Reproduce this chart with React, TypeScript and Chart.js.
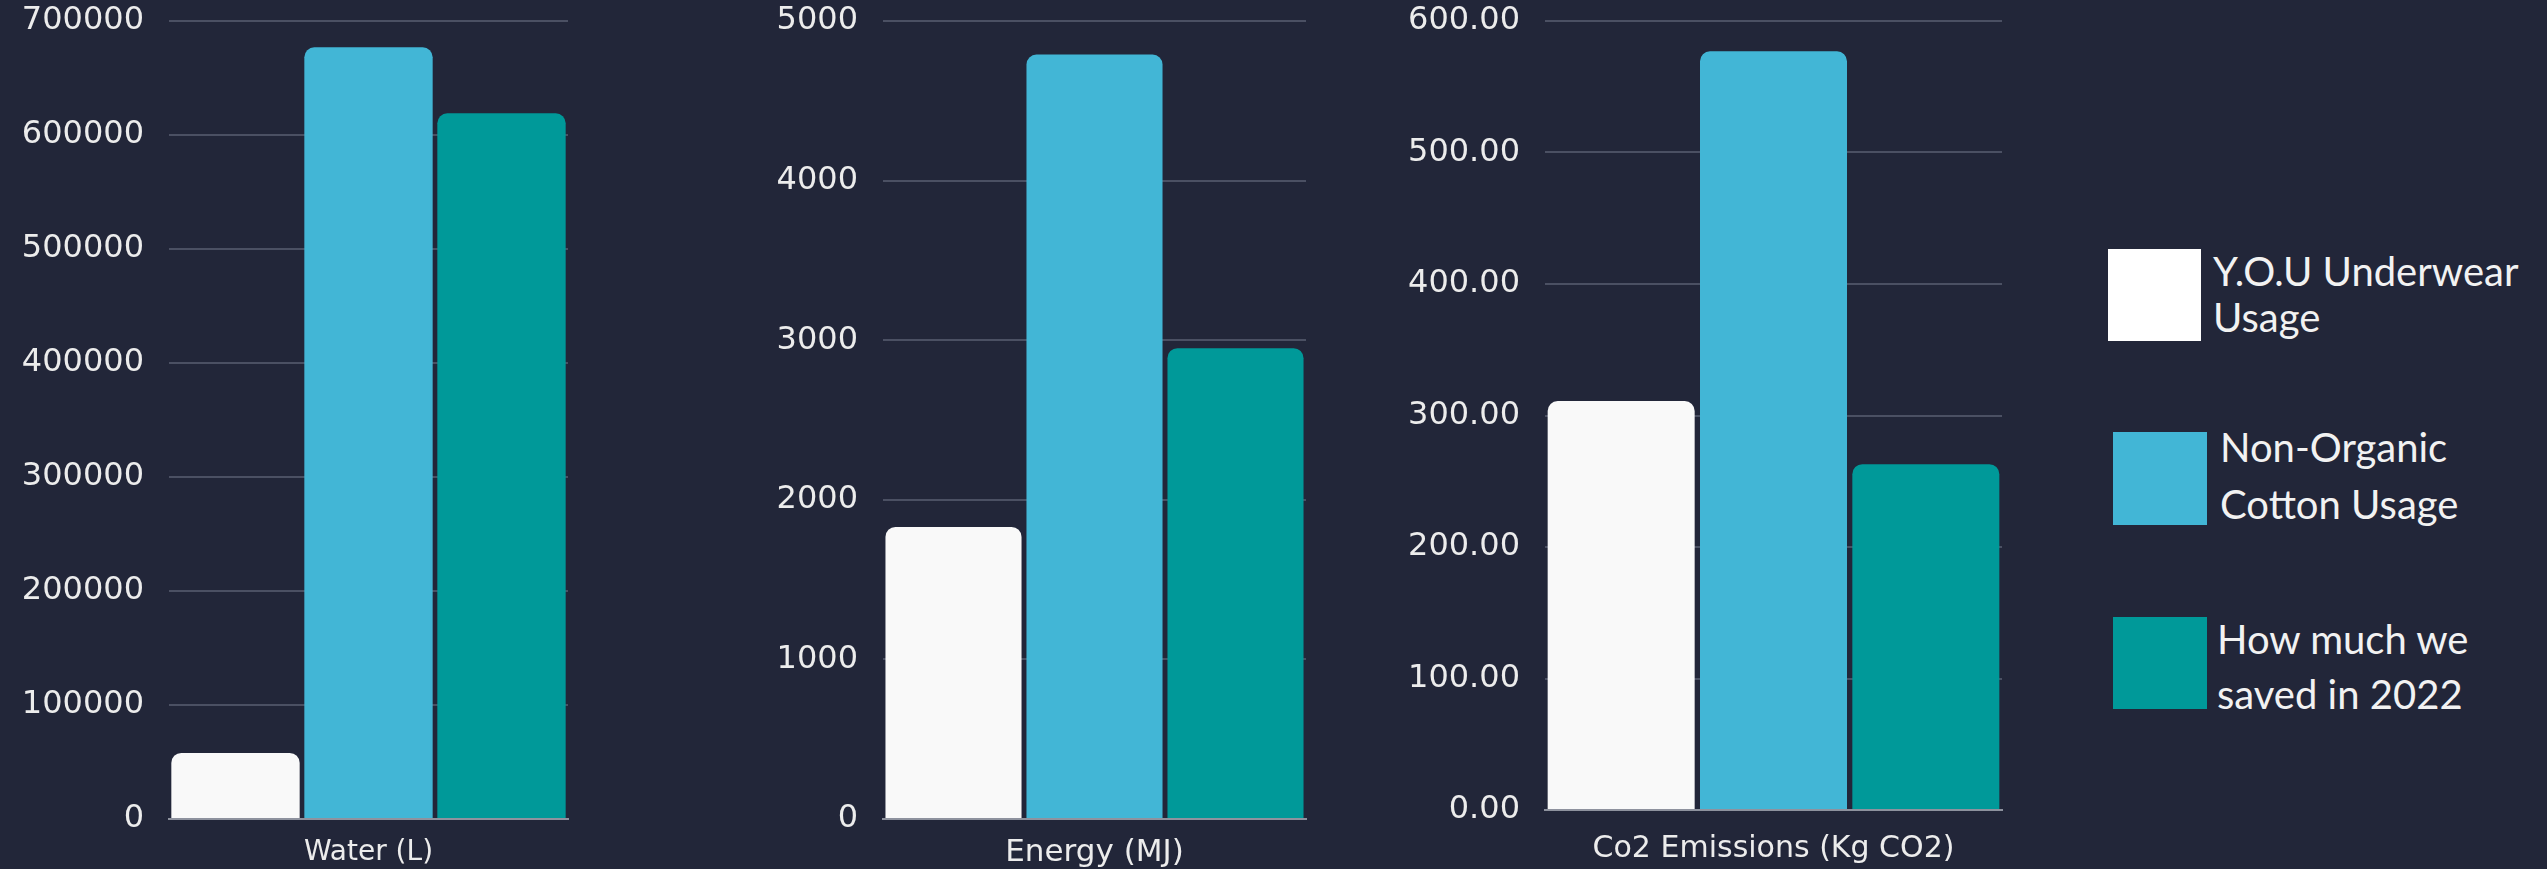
import React, { useEffect, useRef } from 'react';
import { Chart, registerables } from 'chart.js';

Chart.register(...registerables);

// ---- data ----
const SERIES_NAMES = ['Y.O.U Underwear Usage', 'Non-Organic Cotton Usage', 'How much we saved in 2022'];
const SERIES_COLORS = ['#f9f9f9', '#42b6d6', '#009999'];

const WATER_CATEGORY = ['Water (L)'];
const WATER_VALUES = [58000, 677000, 619000];
const WATER_TICKS = { max: 700000, step: 100000, decimals: 0 };

const ENERGY_CATEGORY = ['Energy (MJ)'];
const ENERGY_VALUES = [1830, 4790, 2950];
const ENERGY_TICKS = { max: 5000, step: 1000, decimals: 0 };

const CO2_CATEGORY = ['Co2 Emissions (Kg CO2)'];
const CO2_VALUES = [311, 577, 263];
const CO2_TICKS = { max: 600, step: 100, decimals: 2 };

const LEGEND_LINES = [
  ['Y.O.U Underwear', 'Usage'],
  ['Non-Organic', 'Cotton Usage'],
  ['How much we', 'saved in 2022'],
];

const BG = '#222639';
const GRID = '#4b5063';
const BASE = '#8e929e';
const TEXT = '#ececec';
const CHART_FONT = '"DejaVu Sans", sans-serif';

type PanelProps = {
  left: number;
  width: number;
  yWidth: number;
  padRight: number;
  bottomY: number;
  category: string[];
  values: number[];
  ticks: { max: number; step: number; decimals: number };
  xFontSize: number;
  xPad: number;
};

function BarPanel(p: PanelProps) {
  const ref = useRef<HTMLCanvasElement | null>(null);
  useEffect(() => {
    if (!ref.current) return;
    const chart = new Chart(ref.current, {
      type: 'bar',
      data: {
        labels: p.category,
        datasets: SERIES_NAMES.map((name, i) => ({
          label: name,
          data: [p.values[i]],
          backgroundColor: SERIES_COLORS[i],
          borderRadius: 10,
          borderSkipped: 'start',
          categoryPercentage: 1,
          barPercentage: 0.965,
        })),
      },
      options: {
        animation: false,
        responsive: false,
        maintainAspectRatio: false,
        layout: { padding: { left: 0, right: p.padRight, top: 21, bottom: 0 } },
        plugins: { legend: { display: false }, tooltip: { enabled: false } },
        scales: {
          x: {
            grid: { display: false },
            border: { display: true, color: BASE, width: 2 },
            ticks: {
              color: TEXT,
              padding: p.xPad,
              font: { family: CHART_FONT, size: p.xFontSize },
            },
            afterFit: (scale: any) => {
              scale.height = 869 - p.bottomY;
            },
          },
          y: {
            min: 0,
            max: p.ticks.max,
            grid: { color: GRID, lineWidth: 2, drawTicks: false },
            border: { display: false },
            ticks: {
              stepSize: p.ticks.step,
              color: TEXT,
              padding: 25,
              font: { family: CHART_FONT, size: 32 },
              callback: (v: any) => Number(v).toFixed(p.ticks.decimals),
            },
            afterFit: (scale: any) => {
              scale.width = p.yWidth;
              scale.paddingTop = 0;
              scale.paddingBottom = 0;
            },
          },
        },
      },
    } as any);
    return () => chart.destroy();
  }, []);
  return (
    <canvas
      ref={ref}
      width={p.width}
      height={869}
      style={{ position: 'absolute', left: p.left, top: 0, width: p.width, height: 869 }}
    />
  );
}

function LegendItem({ color, lines, box, textLeft, textTop, lineHeight }: any) {
  return (
    <>
      <div
        style={{
          position: 'absolute',
          left: box[0],
          top: box[1],
          width: box[2],
          height: box[3],
          background: color,
        }}
      />
      <div
        style={{
          position: 'absolute',
          left: textLeft,
          top: textTop,
          fontFamily: 'Lato, sans-serif',
          fontSize: 40,
          lineHeight: lineHeight + 'px',
          color: '#f2f2f2',
          whiteSpace: 'nowrap',
        }}
      >
        {lines.map((l: string, i: number) => (
          <div key={i}>{l}</div>
        ))}
      </div>
    </>
  );
}

export default function App() {
  useEffect(() => {
    document.body.style.margin = '0';
    document.body.style.background = BG;
  }, []);
  return (
    <div
      style={{
        position: 'fixed',
        left: 0,
        top: 0,
        width: 2547,
        height: 869,
        background: BG,
        overflow: 'hidden',
      }}
    >
      <BarPanel
        left={0}
        width={590}
        yWidth={169}
        padRight={22}
        bottomY={819}
        category={WATER_CATEGORY}
        values={WATER_VALUES}
        ticks={WATER_TICKS}
        xFontSize={28}
        xPad={9}
      />
      <BarPanel
        left={730}
        width={600}
        yWidth={153}
        padRight={24}
        bottomY={819}
        category={ENERGY_CATEGORY}
        values={ENERGY_VALUES}
        ticks={ENERGY_TICKS}
        xFontSize={31}
        xPad={7}
      />
      <BarPanel
        left={1380}
        width={640}
        yWidth={165}
        padRight={18}
        bottomY={810}
        category={CO2_CATEGORY}
        values={CO2_VALUES}
        ticks={CO2_TICKS}
        xFontSize={30}
        xPad={13}
      />
      <LegendItem
        color="#ffffff"
        lines={LEGEND_LINES[0]}
        box={[2108, 249, 93, 92]}
        textLeft={2213}
        textTop={248}
        lineHeight={46}
      />
      <LegendItem
        color={SERIES_COLORS[1]}
        lines={LEGEND_LINES[1]}
        box={[2113, 432, 94, 93]}
        textLeft={2220}
        textTop={419}
        lineHeight={57}
      />
      <LegendItem
        color={SERIES_COLORS[2]}
        lines={LEGEND_LINES[2]}
        box={[2113, 617, 94, 92]}
        textLeft={2217}
        textTop={612}
        lineHeight={55}
      />
    </div>
  );
}
